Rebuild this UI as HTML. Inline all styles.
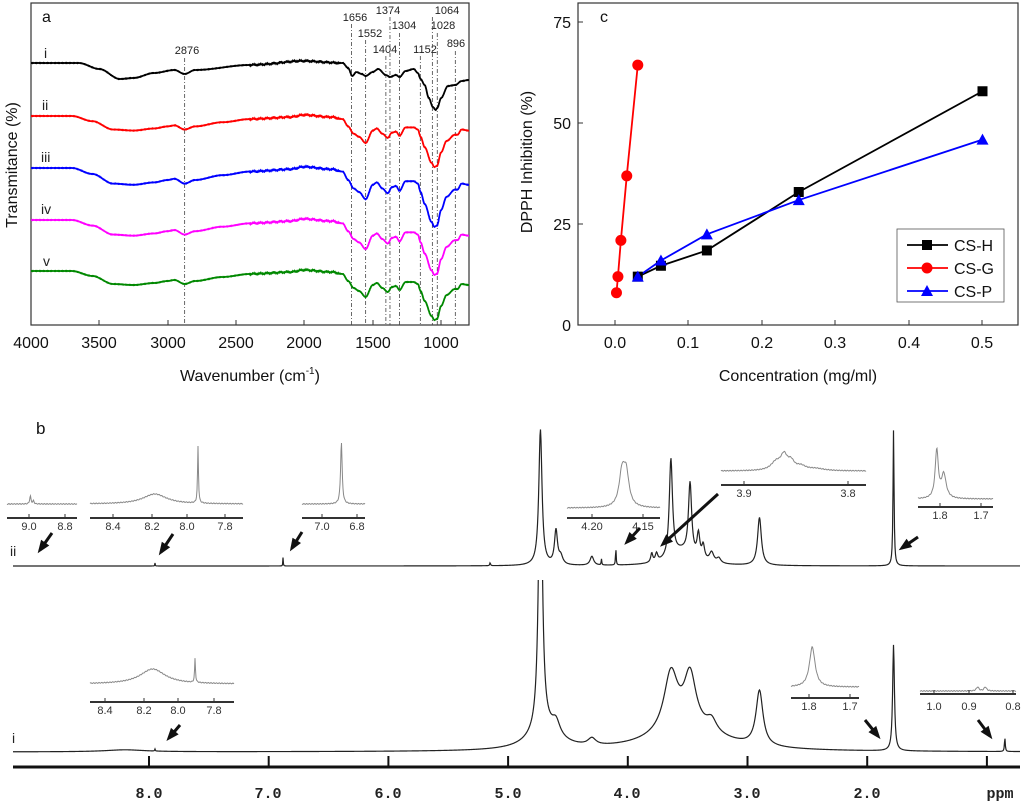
<!DOCTYPE html>
<html><head><meta charset="utf-8"><style>
html,body{margin:0;padding:0;background:#fff;}
svg{display:block;font-family:"Liberation Sans",sans-serif;}
</style></head><body>
<svg id="s" width="1024" height="807" viewBox="0 0 1024 807" xmlns="http://www.w3.org/2000/svg">
<defs><clipPath id="ca"><rect x="31" y="3" width="438" height="322"/></clipPath>
<clipPath id="cn"><rect x="0" y="580" width="1024" height="200"/></clipPath></defs>
<!-- Panel a -->
<rect x="31" y="3" width="438" height="322" fill="none" stroke="#333" stroke-width="1.2"/>
<g font-size="16" fill="#111" text-anchor="middle">
<text x="31" y="348">4000</text><text x="99" y="348">3500</text><text x="168" y="348">3000</text><text x="236" y="348">2500</text><text x="304" y="348">2000</text><text x="373" y="348">1500</text><text x="441" y="348">1000</text>
</g>
<g stroke="#333" stroke-width="1"><line x1="99" y1="325" x2="99" y2="320"/><line x1="168" y1="325" x2="168" y2="320"/><line x1="236" y1="325" x2="236" y2="320"/><line x1="304" y1="325" x2="304" y2="320"/><line x1="373" y1="325" x2="373" y2="320"/><line x1="441" y1="325" x2="441" y2="320"/></g>
<text x="250" y="381" font-size="16" text-anchor="middle" fill="#111">Wavenumber (cm<tspan font-size="10" dy="-7">-1</tspan><tspan dy="7">)</tspan></text>
<text transform="translate(17,165) rotate(-90)" font-size="16" text-anchor="middle" fill="#111">Transmitance (%)</text>
<text x="42" y="22" font-size="16" fill="#111">a</text>
<g font-size="14" fill="#222"><text x="44" y="58">i</text><text x="42" y="110">ii</text><text x="41" y="162">iii</text><text x="41" y="214">iv</text><text x="43" y="266">v</text></g>
<g font-size="11" fill="#222" text-anchor="middle">
<text x="187" y="54">2876</text><text x="355" y="21">1656</text><text x="370" y="37">1552</text><text x="388" y="14">1374</text><text x="385" y="53">1404</text><text x="404" y="29">1304</text><text x="425" y="53">1152</text><text x="447" y="14">1064</text><text x="443" y="29">1028</text><text x="456" y="47">896</text>
</g>
<g id="dl" stroke="#444" stroke-width="0.8" stroke-dasharray="4,2,1,2" fill="none"></g>
<g id="ir" clip-path="url(#ca)" fill="none" stroke-width="1.8"></g>
<!-- Panel c -->
<rect x="578" y="3" width="440" height="322" fill="none" stroke="#333" stroke-width="1.2"/>
<g font-size="16" fill="#111" text-anchor="middle">
<text x="615" y="348">0.0</text><text x="688" y="348">0.1</text><text x="762" y="348">0.2</text><text x="835" y="348">0.3</text><text x="909" y="348">0.4</text><text x="982" y="348">0.5</text>
</g>
<g font-size="16" fill="#111" text-anchor="end"><text x="571" y="28">75</text><text x="571" y="129">50</text><text x="571" y="230">25</text><text x="571" y="331">0</text></g>
<g stroke="#333" stroke-width="1"><line x1="615" y1="325" x2="615" y2="320"/><line x1="688" y1="325" x2="688" y2="320"/><line x1="762" y1="325" x2="762" y2="320"/><line x1="835" y1="325" x2="835" y2="320"/><line x1="909" y1="325" x2="909" y2="320"/><line x1="982" y1="325" x2="982" y2="320"/>
<line x1="578" y1="22" x2="583" y2="22"/><line x1="578" y1="123" x2="583" y2="123"/><line x1="578" y1="224" x2="583" y2="224"/></g>
<text x="798" y="381" font-size="16" text-anchor="middle" fill="#111">Concentration (mg/ml)</text>
<text transform="translate(532,162) rotate(-90)" font-size="16" text-anchor="middle" fill="#111">DPPH Inhibition (%)</text>
<text x="600" y="22" font-size="16" fill="#111">c</text>
<g id="dp"></g>
<rect x="897" y="229" width="107" height="73" fill="#fff" stroke="#555" stroke-width="0.8"/>
<line x1="907" y1="245" x2="948" y2="245" stroke="#000" stroke-width="1.8"/><rect x="922" y="240" width="10" height="10" fill="#000"/>
<line x1="907" y1="268" x2="948" y2="268" stroke="#f00" stroke-width="1.8"/><circle cx="927" cy="268" r="5.5" fill="#f00"/>
<line x1="907" y1="291" x2="948" y2="291" stroke="#00f" stroke-width="1.8"/><polygon points="927,285 933,296 921,296" fill="#00f"/>
<g font-size="16" fill="#111"><text x="954" y="251">CS-H</text><text x="954" y="274">CS-G</text><text x="954" y="297">CS-P</text></g>
<!-- Panel b -->
<text x="36" y="434" font-size="17" fill="#111">b</text>
<g font-size="14" fill="#222"><text x="10" y="556">ii</text><text x="12" y="743">i</text></g>
<line x1="13" y1="767" x2="1020" y2="767" stroke="#111" stroke-width="3"/>
<g id="nt" stroke="#111" stroke-width="2"></g>
<g font-family="'Liberation Mono',monospace" font-weight="bold" font-size="15" fill="#222" text-anchor="middle">
<text x="149" y="798">8.0</text><text x="268" y="798">7.0</text><text x="388" y="798">6.0</text><text x="508" y="798">5.0</text><text x="627" y="798">4.0</text><text x="747" y="798">3.0</text><text x="867" y="798">2.0</text><text x="1000" y="798">ppm</text>
</g>
<g id="nmr" fill="none" stroke="#222" stroke-width="1.2"></g>
<g id="ins" fill="none" stroke="#888" stroke-width="1"></g>
<g id="iax" stroke="#333" stroke-width="2"></g>
<g font-size="11" fill="#333" text-anchor="middle">
<text x="29" y="530">9.0</text><text x="65" y="530">8.8</text>
<text x="113" y="530">8.4</text><text x="152" y="530">8.2</text><text x="187" y="530">8.0</text><text x="225" y="530">7.8</text>
<text x="322" y="530">7.0</text><text x="357" y="530">6.8</text>
<text x="592" y="530">4.20</text><text x="643" y="530">4.15</text>
<text x="744" y="497">3.9</text><text x="848" y="497">3.8</text>
<text x="940" y="519">1.8</text><text x="981" y="519">1.7</text>
<text x="105" y="714">8.4</text><text x="144" y="714">8.2</text><text x="178" y="714">8.0</text><text x="214" y="714">7.8</text>
<text x="809" y="710">1.8</text><text x="850" y="710">1.7</text>
<text x="934" y="710">1.0</text><text x="969" y="710">0.9</text><text x="1013" y="710">0.8</text>
</g>
<g id="arr" fill="#111"></g>
</svg>
<script>
var NS="http://www.w3.org/2000/svg";
function el(p,t,a){var e=document.createElementNS(NS,t);for(var k in a)e.setAttribute(k,a[k]);document.getElementById(p).appendChild(e);return e;}
function interp(pts,w){for(var i=0;i<pts.length-1;i++){var a=pts[i],b=pts[i+1];if(w<=a[0]&&w>=b[0]){var t=(a[0]-w)/(a[0]-b[0]);t=t*t*(3-2*t);return a[1]+(b[1]-a[1])*t;}}return pts[pts.length-1][1];}
var G=[[4000,0],[3700,0],[3550,5],[3400,13],[3250,14],[3100,12],[3000,10],[2950,9],[2876,13],[2800,10],[2600,6],[2400,3],[2100,1],[2000,-1],[1800,1],[1720,3],[1680,10],[1640,17],[1600,20],[1552,26],[1500,14],[1470,12],[1430,17],[1390,21],[1360,16],[1330,15],[1304,19],[1260,11],[1200,11],[1170,13],[1150,20],[1120,30],[1070,45],[1050,49],[1030,48],[1000,35],[960,24],[900,18],[880,18],[850,13],[800,14]];
var I=[[4000,0],[3650,0],[3500,6],[3350,16],[3250,15],[3100,10],[2950,7],[2876,11],[2800,7],[2400,2],[2000,-2],[1720,0],[1680,5],[1650,13],[1620,9],[1580,11],[1552,13],[1500,9],[1460,6],[1404,12],[1374,14],[1330,12],[1304,14],[1260,8],[1200,6],[1170,10],[1150,16],[1120,22],[1090,35],[1060,44],[1040,47],[1028,45],[1000,35],[950,23],[896,22],[850,18],[800,17]];
var cur=[[I,63,"#000",1],[G,116,"#f00",1.04],[G,168,"#00f",1.2],[G,220,"#f0f",1.12],[G,271,"#080",1.0]];
cur.forEach(function(c){var d="";for(var w=4000;w>=790;w-=4){var x=31+(4000-w)*0.1367;var n=(w<2400&&w>1750)?(Math.sin(w*1.7)+Math.sin(w*0.53))*0.5:Math.sin(w*0.9)*0.2;var y=c[1]+interp(c[0],w)*c[3]+n;d+=(d?"L":"M")+x.toFixed(1)+" "+y.toFixed(1);}el("ir","path",{d:d,stroke:c[2]});});
[[2876,58],[1656,24],[1552,40],[1404,56],[1374,17],[1304,33],[1152,56],[1064,17],[1028,33],[896,51]].forEach(function(v){var x=31+(4000-v[0])*0.1367;el("dl","line",{x1:x,y1:v[1],x2:x,y2:325});});
function cx(c){return 615+c*735;}function cy(v){return 325-v*4.03;}
var H=[[0.031,12],[0.0625,14.7],[0.125,18.5],[0.25,33],[0.5,58]],Gd=[[0.002,8],[0.004,12],[0.008,21],[0.016,37],[0.031,64.5]],P=[[0.031,12],[0.0625,16],[0.125,22.5],[0.25,31],[0.5,46]];
function pl(a,col){el("dp","polyline",{points:a.map(function(p){return cx(p[0])+","+cy(p[1]);}).join(" "),fill:"none",stroke:col,"stroke-width":1.8});}
pl(H,"#000");pl(Gd,"#f00");pl(P,"#00f");
H.forEach(function(p){el("dp","rect",{x:cx(p[0])-5,y:cy(p[1])-5,width:10,height:10,fill:"#000"});});
Gd.forEach(function(p){el("dp","circle",{cx:cx(p[0]),cy:cy(p[1]),r:5.5,fill:"#f00"});});
P.forEach(function(p){var x=cx(p[0]),y=cy(p[1]);el("dp","polygon",{points:x+","+(y-6)+" "+(x+6)+","+(y+5)+" "+(x-6)+","+(y+5),fill:"#00f"});});
function nx(p){return 149+(8-p)*119.7;}
[8,7,6,5,4,3,2,1].forEach(function(p){el("nt","line",{x1:nx(p),y1:756,x2:nx(p),y2:767});});
function spec(base,pk,x0,x1){var d="";for(var x=x0;x<=x1;x+=0.5){var p=8-(x-149)/119.7,s=0;pk.forEach(function(k){var u=(p-k[0])/k[2];s+=k[1]/(1+u*u);});d+=(d?"L":"M")+x+" "+(base-s).toFixed(2);}return d;}
var pii=[[4.73,136,0.016],[4.6,34,0.015],[4.56,8,0.02],[4.3,9,0.018],[4.22,6,0.003],[4.1,18,0.003],[3.8,9,0.01],[3.76,8,0.012],[3.64,98,0.016],[3.55,14,0.12],[3.48,72,0.016],[3.41,24,0.014],[3.37,14,0.014],[3.3,10,0.022],[3.24,5,0.02],[2.9,48,0.019],[1.78,136,0.005],[6.88,9,0.002],[5.15,3,0.004],[7.95,3,0.002]];
var pi=[[4.73,300,0.018],[4.7,20,0.15],[4.6,14,0.04],[4.3,7,0.04],[3.64,58,0.07],[3.48,52,0.06],[3.3,12,0.05],[3.5,22,0.35],[2.9,55,0.035],[1.78,106,0.009],[0.85,14,0.004],[8.2,2,0.2],[7.95,2,0.003]];
el("nmr","path",{d:spec(566,pii,13,1020)});
el("nmr","path",{d:spec(752,pi,13,1020),"clip-path":"url(#cn)"});
function ins(x0,x1,base,pk,ppm0,ppm1,ax){var d="";for(var x=x0;x<=x1;x+=0.5){var p=ppm0+(ppm1-ppm0)*(x-x0)/(x1-x0),s=0;pk.forEach(function(k){var u=(p-k[0])/k[2];s+=k[1]/(1+u*u);});s+=Math.sin(x*2.3)*0.4;d+=(d?"L":"M")+x+" "+(base-s).toFixed(2);}el("ins","path",{d:d});el("iax","line",{x1:x0,y1:ax,x2:x1,y2:ax});}
ins(7,77,504,[[9.0,8,0.005],[8.98,3,0.005]],9.15,8.7,518);
ins(90,243,504,[[8.19,10,0.08],[7.95,57,0.003]],8.55,7.7,518);
ins(302,365,504,[[6.9,62,0.006]],7.15,6.75,518);
ins(567,660,508,[[4.165,32,0.004],[4.16,32,0.004]],4.23,4.12,518);
ins(721,866,471,[[3.87,8,0.006],[3.862,14,0.004],[3.855,8,0.004],[3.845,4,0.006],[3.83,2,0.01]],3.925,3.78,485);
ins(918,993,499,[[1.79,48,0.004],[1.775,24,0.006]],1.83,1.67,507);
ins(90,234,684,[[8.18,15,0.09],[7.93,24,0.003]],8.55,7.7,702);
ins(791,859,687,[[1.79,40,0.008]],1.84,1.68,698);
ins(920,1016,691,[[0.9,4,0.004],[0.88,4,0.004]],1.05,0.8,694);
[[29,518],[65,518],[113,518],[152,518],[187,518],[225,518],[322,518],[357,518],[592,518],[643,518],[744,485],[848,485],[940,507],[981,507],[105,702],[144,702],[178,702],[214,702],[809,698],[850,698],[934,694],[969,694],[1013,694]].forEach(function(t){el("iax","line",{x1:t[0],y1:t[1],x2:t[0],y2:t[1]-4,"stroke-width":1});});
function arr(x1,y1,x2,y2){el("arr","line",{x1:x1,y1:y1,x2:x2,y2:y2,stroke:"#111","stroke-width":3});var a=Math.atan2(y2-y1,x2-x1),L=9,W=5;var p=[x2+Math.cos(a)*4,y2+Math.sin(a)*4];var b=[x2-Math.cos(a)*L,y2-Math.sin(a)*L];el("arr","polygon",{points:p[0]+","+p[1]+" "+(b[0]-Math.sin(a)*W)+","+(b[1]+Math.cos(a)*W)+" "+(b[0]+Math.sin(a)*W)+","+(b[1]-Math.cos(a)*W)});}
arr(52,533,40,550);arr(173,534,161,552);arr(302,532,292,548);arr(640,528,627,542);arr(718,494,663,544);arr(918,537,902,548);arr(180,725,169,738);arr(865,720,878,736);arr(978,720,990,736);
</script>
</body></html>
